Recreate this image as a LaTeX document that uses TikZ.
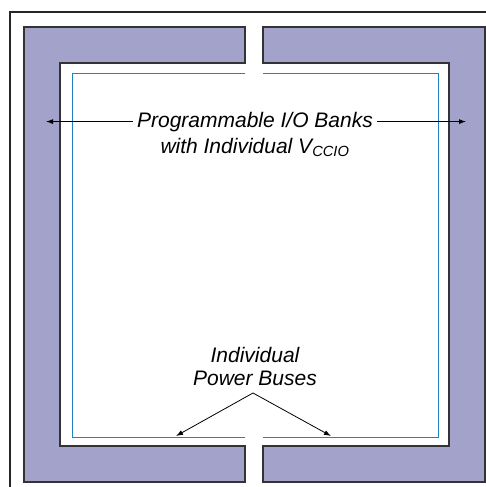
\documentclass[tikz,border=0pt]{standalone}
\usepackage{fontspec}
\setmainfont{Liberation Sans}
\usetikzlibrary{arrows.meta}

\definecolor{bankfill}{RGB}{163,162,203}
\definecolor{busblue}{RGB}{36,128,190}

\begin{document}
\begin{tikzpicture}[x=1pt,y=-1pt,
  arrow/.style={-{Latex[length=7pt,width=5pt]}, line width=.8pt},
  bank/.style={fill=bankfill, draw=black!80, line width=1.2pt},
  bus/.style={draw=busblue, line width=1pt},
  lbl/.style={font=\fontsize{21}{25}\selectfont\itshape, anchor=base, inner sep=4pt}]
\useasboundingbox (0,0) rectangle (485,487);

% OUTER FRAME
\draw [line width=1.2pt, black!85] (10,487) -- (10,12) -- (486,12);

% I/O BANKS
\filldraw [bank] (245,27) -- (24,27) -- (24,482) -- (245,482) -- (245,446) -- (60,446) -- (60,63) -- (245,63) -- cycle;
\filldraw [bank] (263,27) -- (485,27) -- (485,482) -- (263,482) -- (263,446) -- (449,446) -- (449,63) -- (263,63) -- cycle;

% POWER BUSES
\draw [bus] (245,73) -- (72,73) -- (72,437) -- (245,437);
\draw [bus] (263,73) -- (438,73) -- (438,437) -- (263,437);

% LABELS
\node [lbl] (banks) at (255,127) {Programmable I/O Banks};
\node [lbl] (vccio) at (255,153) {with Individual V\textsubscript{CCIO}};
\node [lbl] (indiv) at (255,362) {Individual};
\node [lbl] (buses) at (255,385) {Power Buses};

\coordinate (ltip) at (46,0);
\coordinate (rtip) at (466,0);
\coordinate (apex) at (253,393);
\coordinate (lbus) at (176,436);
\coordinate (rbus) at (331,436);

\draw [arrow] (banks.west) -- (banks.west -| ltip);
\draw [arrow] (banks.east) -- (banks.east -| rtip);
\draw [arrow] (apex) -- (lbus);
\draw [arrow] (apex) -- (rbus);
\end{tikzpicture}
\end{document}
